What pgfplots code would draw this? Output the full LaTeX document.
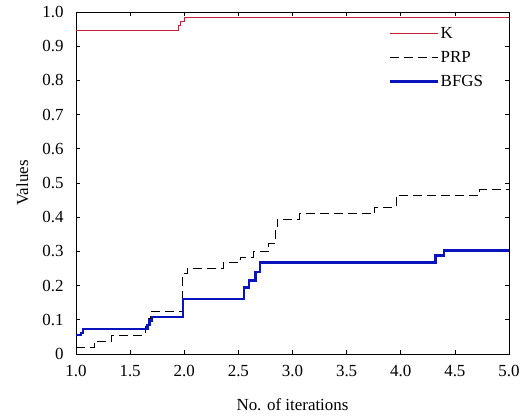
\documentclass[border=0pt]{standalone}
\usepackage{pgfplots}
\pgfplotsset{compat=1.18}
\usepackage{fontspec}
\setmainfont{Liberation Serif}
\definecolor{kred}{RGB}{195,35,50}
\definecolor{bblue}{RGB}{10,20,190}
\begin{document}
\begin{tikzpicture}
\useasboundingbox (-76bp,-63bp) rectangle (450bp,354bp);
\begin{axis}[
  at={(0,0)}, anchor=south west,
  scale only axis,
  width=433bp, height=342bp,
  xmin=1, xmax=5, ymin=0, ymax=1,
  xtick={1,1.5,...,5},
  xticklabels={1.0,1.5,2.0,2.5,3.0,3.5,4.0,4.5,5.0},
  ytick={0,0.1,0.2,0.3,0.4,0.5,0.6,0.7,0.8,0.9,1.0},
  yticklabels={0,0.1,0.2,0.3,0.4,0.5,0.6,0.7,0.8,0.9,1.0},
  tick align=inside, tick pos=both,
  major tick length=4bp,
  axis line style={line width=0.9bp},
  tick style={line width=0.7bp, black},
  font=\fontsize{17}{20}\selectfont,
  /pgf/number format/assume math mode=true,
  xticklabel style={yshift=-8bp},
  yticklabel style={xshift=-9bp},
  xlabel={No. of iterations},
  ylabel={Values},
  xlabel style={yshift=-15bp},
  ylabel style={yshift=7bp},
  legend cell align=left,
  legend style={draw=none, fill=none, at={(0.714,0.968)}, anchor=north west,
    row sep=7.5bp, font=\fontsize{17}{20}\selectfont},
  legend image code/.code={\draw[#1] (0bp,0bp) -- (48bp,0bp);},
]
\addplot[const plot, kred, line width=0.9bp] coordinates {
(1.0,0.947) (1.945,0.96) (1.967,0.972) (1.998,0.984) (5.0,0.984)};
\addlegendentry{K}
\addplot[const plot, black, line width=0.9bp, dash pattern=on 9bp off 5bp] coordinates {
(1.0,0.018) (1.17,0.038) (1.33,0.055) (1.64,0.08) (1.67,0.105) (1.69,0.125)
(1.98,0.235) (2.03,0.25) (2.36,0.268) (2.52,0.283) (2.64,0.30) (2.78,0.322)
(2.84,0.36) (2.86,0.394) (3.06,0.411) (3.76,0.429) (3.96,0.465) (4.73,0.481) (5.0,0.481)};
\addlegendentry{PRP}
\addplot[const plot, bblue, line width=2.4bp] coordinates {
(1.0,0.055) (1.045,0.062) (1.065,0.073) (1.66,0.085) (1.68,0.098) (1.70,0.108)
(1.99,0.16) (2.55,0.195) (2.60,0.215) (2.66,0.24) (2.70,0.268) (4.32,0.288)
(4.40,0.303) (5.0,0.303)};
\addlegendentry{BFGS}
\end{axis}
\end{tikzpicture}
\end{document}
